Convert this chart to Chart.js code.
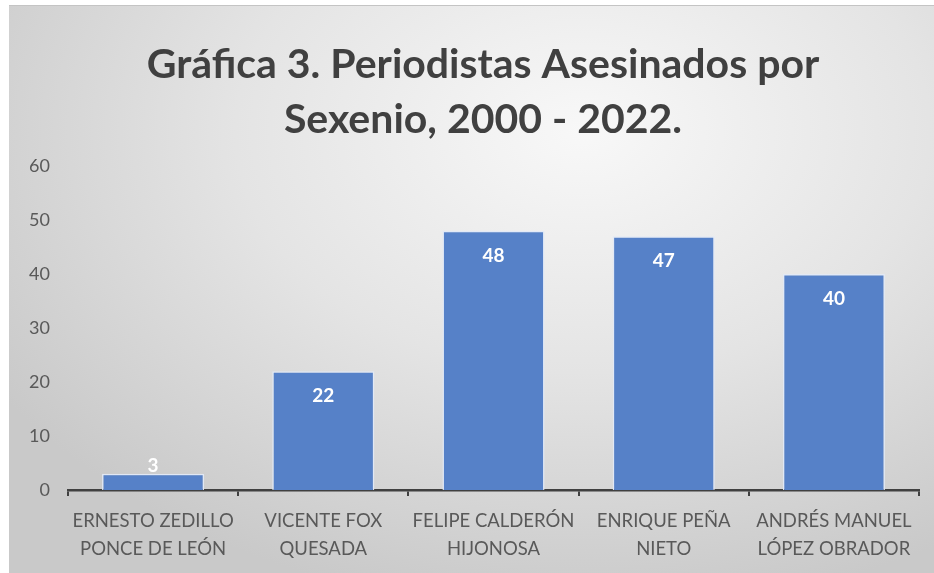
<!DOCTYPE html>
<html>
<head>
<meta charset="utf-8">
<script src="https://cdn.jsdelivr.net/npm/chart.js@4"></script>
<style>
  html, body { margin: 0; padding: 0; background: #fff; }
  .panel {
    position: absolute; left: 9px; top: 5px; width: 925px; height: 568px;
    background: radial-gradient(ellipse 75% 85% at 62% 22%, #f8f8f8 0%, #e4e4e4 50%, #c9c9c9 100%);
    border-top: 1px solid #c4c4c4;
  }
  canvas { display: block; }
</style>
</head>
<body>
<div class="panel"><canvas id="myChart" width="925" height="567"></canvas></div>
<script>
(function () {
  "use strict";

  // datos
  const categories = [
    ["ERNESTO ZEDILLO", "PONCE DE LEÓN"],
    ["VICENTE FOX", "QUESADA"],
    ["FELIPE CALDERÓN", "HIJONOSA"],
    ["ENRIQUE PEÑA", "NIETO"],
    ["ANDRÉS MANUEL", "LÓPEZ OBRADOR"],
  ];
  const periodistas = [3, 22, 48, 47, 40];
  const yTicks = [0, 10, 20, 30, 40, 50, 60];
  const titleLines = ["Gráfica 3. Periodistas Asesinados por", "Sexenio, 2000 - 2022."];

  // titulo (centrado un poco a la derecha, como en el original)
  const chartTitle = {
    id: "chartTitle",
    afterDraw(chart) {
      const ctx = chart.ctx;
      ctx.save();
      ctx.font = "bold 41px Lato";
      ctx.fillStyle = "#404040";
      ctx.textAlign = "center";
      ctx.textBaseline = "middle";
      titleLines.forEach((line, i) => {
        ctx.fillText(line, 474, 59 + i * 55);
      });
      ctx.restore();
    },
  };

  // etiquetas blancas dentro de la barra
  const barLabels = {
    id: "barLabels",
    afterDatasetsDraw(chart) {
      const ctx = chart.ctx;
      const meta = chart.getDatasetMeta(0);
      ctx.save();
      ctx.font = "bold 19px Lato";
      ctx.fillStyle = "#ffffff";
      ctx.textAlign = "center";
      ctx.textBaseline = "middle";
      meta.data.forEach((bar, i) => {
        const h = bar.base - bar.y;
        const y = h > 40 ? bar.y + 25 : bar.y - 8;
        ctx.fillText(String(periodistas[i]), bar.x, y);
      });
      ctx.restore();
    },
  };

  const ctx = document.getElementById("myChart");

  new Chart(ctx, {
    type: "bar",
    data: {
      labels: categories,
      datasets: [
        {
          label: "Periodistas",
          data: periodistas,
          backgroundColor: "#5681c8",
          borderColor: "rgba(225,233,247,0.95)",
          borderWidth: 1.5,
          barPercentage: 0.6,
          categoryPercentage: 1,
        },
      ],
    },
    options: {
      responsive: false,
      devicePixelRatio: 1,
      animation: false,
      layout: { padding: { left: 0, right: 15, top: 160, bottom: 0 } },
      plugins: {
        legend: { display: false },
        tooltip: { enabled: false },
        title: { display: false },
      },
      scales: {
        x: {
          grid: {
            display: true,
            offset: true,
            drawOnChartArea: false,
            drawTicks: true,
            tickLength: 6,
            color: "#404040",
            lineWidth: 2,
          },
          border: { display: true, color: "#404040", width: 2.5 },
          ticks: {
            color: "#595959",
            font: { family: "Lato", size: 18.5, lineHeight: 1.5 },
            padding: 11,
            maxRotation: 0,
            autoSkip: false,
          },
          afterFit(scale) {
            scale.height = 83;
          },
        },
        y: {
          min: 0,
          max: 60,
          afterBuildTicks(scale) {
            scale.ticks = yTicks.map((v) => ({ value: v }));
          },
          grid: { display: false, drawTicks: false },
          border: { display: false },
          ticks: {
            color: "#595959",
            font: { family: "Lato", size: 18 },
            padding: 18,
          },
          afterFit(scale) {
            scale.width = 59;
          },
        },
      },
    },
    plugins: [barLabels, chartTitle],
  });
})();
</script>
</body>
</html>
